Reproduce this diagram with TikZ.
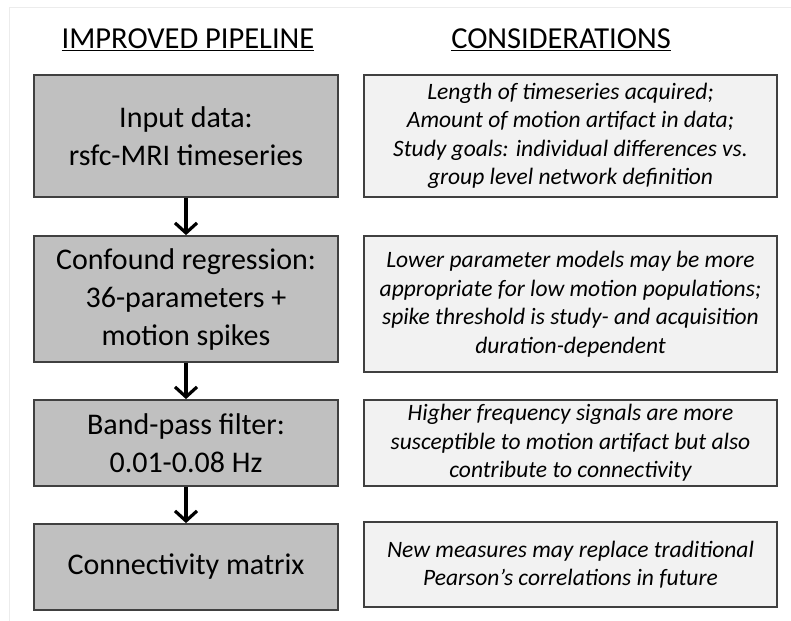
\documentclass[tikz,border=0pt]{standalone}
\usepackage{fontspec}
\setmainfont{Carlito}
\usetikzlibrary{arrows.meta}
\definecolor{leftfill}{RGB}{192,192,192}
\definecolor{rightfill}{RGB}{242,242,242}
\definecolor{edge}{RGB}{64,64,64}
\tikzset{
  pipebox/.style={draw=edge, line width=1.8pt, fill=leftfill, minimum width=304pt, align=center, font=\fontsize{30}{38}\selectfont, inner sep=0pt},
  consbox/.style={draw=edge, line width=1.5pt, fill=rightfill, minimum width=413pt, align=center, font=\fontsize{23.5}{28.5}\selectfont\itshape, inner sep=0pt},
  header/.style={font=\fontsize{30.5}{34}\selectfont},
  flowarrow/.style={line width=3.2pt, -{Straight Barb[length=10pt,width=22pt,line width=3.2pt]}}
}
\begin{document}
\begin{tikzpicture}[x=1pt,y=-1pt]
\useasboundingbox (0,0) rectangle (791,620);
\draw[gray!15, line width=1pt] (9,640) -- (9,8) -- (800,8);
\node[header] (h1) at (188,40) {\underline{IMPROVED PIPELINE}};
\node[header] (h2) at (561,40) {\underline{CONSIDERATIONS}};
\node[pipebox, minimum height=122pt] (p1) at (186,136) {Input data:\\rsfc-MRI timeseries};
\node[pipebox, minimum height=126pt] (p2) at (186,299) {Confound regression:\\36-parameters +\\motion spikes};
\node[pipebox, minimum height=86pt] (p3) at (186,443) {Band-pass filter:\\0.01-0.08 Hz};
\node[pipebox, minimum height=86pt] (p4) at (186,567) {Connectivity matrix};
\node[consbox, minimum height=122pt] (c1) at (570.5,136) {Length of timeseries acquired;\\Amount of motion artifact in data;\\Study goals: individual differences vs.\\group level network definition};
\node[consbox, minimum height=136pt] (c2) at (570.5,304) {Lower parameter models may be more\\appropriate for low motion populations;\\spike threshold is study- and acquisition\\duration-dependent};
\node[consbox, minimum height=86pt] (c3) at (570.5,443) {Higher frequency signals are more\\susceptible to motion artifact but also\\contribute to connectivity};
\node[consbox, minimum height=85pt] (c4) at (570.5,564.5) {New measures may replace traditional\\Pearson’s correlations in future};
\draw[flowarrow] (p1.south) -- (p2.north);
\draw[flowarrow] (p2.south) -- (p3.north);
\draw[flowarrow] (p3.south) -- (p4.north);
\end{tikzpicture}
\end{document}
